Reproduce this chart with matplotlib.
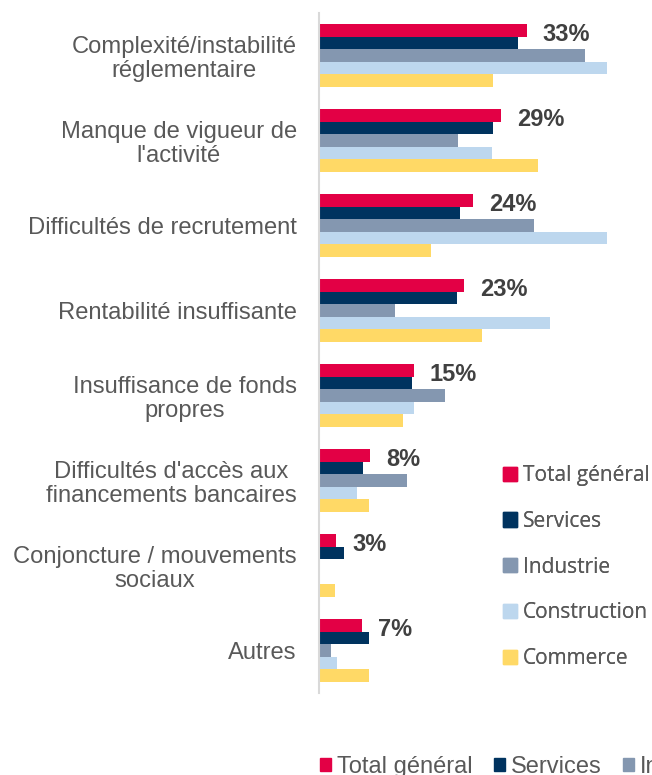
import numpy as np
import matplotlib.pyplot as plt
from matplotlib.patches import Patch

categories = [
    "Complexité/instabilité\nréglementaire",
    "Manque de vigueur de\nl'activité",
    "Difficultés de recrutement",
    "Rentabilité insuffisante",
    "Insuffisance de fonds\npropres",
    "Difficultés d'accès aux\nfinancements bancaires",
    "Conjoncture / mouvements\nsociaux",
    "Autres",
]
series = ["Total général", "Services", "Industrie", "Construction", "Commerce"]

total = [33.0, 28.9, 24.4, 23.0, 15.0, 8.1, 2.7, 6.8]
services = [31.6, 27.6, 22.4, 21.9, 14.7, 7.0, 4.0, 8.0]
industrie = [42.2, 22.0, 34.2, 12.0, 20.0, 14.0, 0.0, 1.9]
construction = [45.7, 27.4, 45.7, 36.6, 15.1, 6.0, 0.0, 2.9]
commerce = [27.6, 34.7, 17.7, 25.8, 13.3, 7.9, 2.5, 7.9]

colors = ["#E30045", "#00335F", "#8497B0", "#BDD7EE", "#FFD966"]

fig = plt.figure(figsize=(6.52, 7.75), dpi=100)
ax = fig.add_axes([319 / 652, 82 / 775, 327.6 / 652, 680 / 775])

y = np.arange(len(categories))
h = 0.1467
all_vals = [total, services, industrie, construction, commerce]
for k, (name, vals, col) in enumerate(zip(series, all_vals, colors)):
    ax.barh(y + (k - 2) * h, vals, height=h, color=col, label=name)

# étiquettes du total
for yi, v in zip(y, total):
    ax.annotate(f"{round(v)}%", xy=(v, yi - 2 * h), xytext=(11.5, -2.5),
                textcoords="offset points", va="center", ha="left",
                fontsize=17, fontweight="bold", color="#404040",
                family="Liberation Sans")

ax.set_xlim(0, 52)
ax.set_ylim(len(categories) - 0.5, -0.5)
ax.set_xticks([])
ax.set_yticks(y)
ax.set_yticklabels(categories, fontsize=17.1, color="#595959",
                   family="Liberation Sans", multialignment="center",
                   linespacing=1.12)
ax.tick_params(axis="y", length=0, pad=16)
for s in ["top", "right", "bottom"]:
    ax.spines[s].set_visible(False)
ax.spines["left"].set_color("#D9D9D9")
ax.spines["left"].set_linewidth(1.5)

handles = [Patch(color=c, label=n) for n, c in zip(series, colors)]

leg1 = ax.legend(handles=handles, loc="upper left",
                 bbox_to_anchor=(503 / 652, (775 - 465) / 775),
                 bbox_transform=fig.transFigure, frameon=False,
                 prop={"family": "Open Sans", "size": 15}, labelcolor="#595959",
                 handlelength=0.67, handleheight=0.67, handletextpad=0.3,
                 labelspacing=1.19, borderpad=0, borderaxespad=0)
ax.add_artist(leg1)

fig.legend(handles=handles, loc="upper left",
           bbox_to_anchor=(320 / 652, (775 - 756) / 775), ncol=5,
           frameon=False, prop={"family": "Liberation Sans", "size": 17},
           labelcolor="#595959", handlelength=0.47, handleheight=0.47,
           handletextpad=0.25, columnspacing=0.9, borderpad=0, borderaxespad=0)

fig.savefig("out.png", dpi=100)
